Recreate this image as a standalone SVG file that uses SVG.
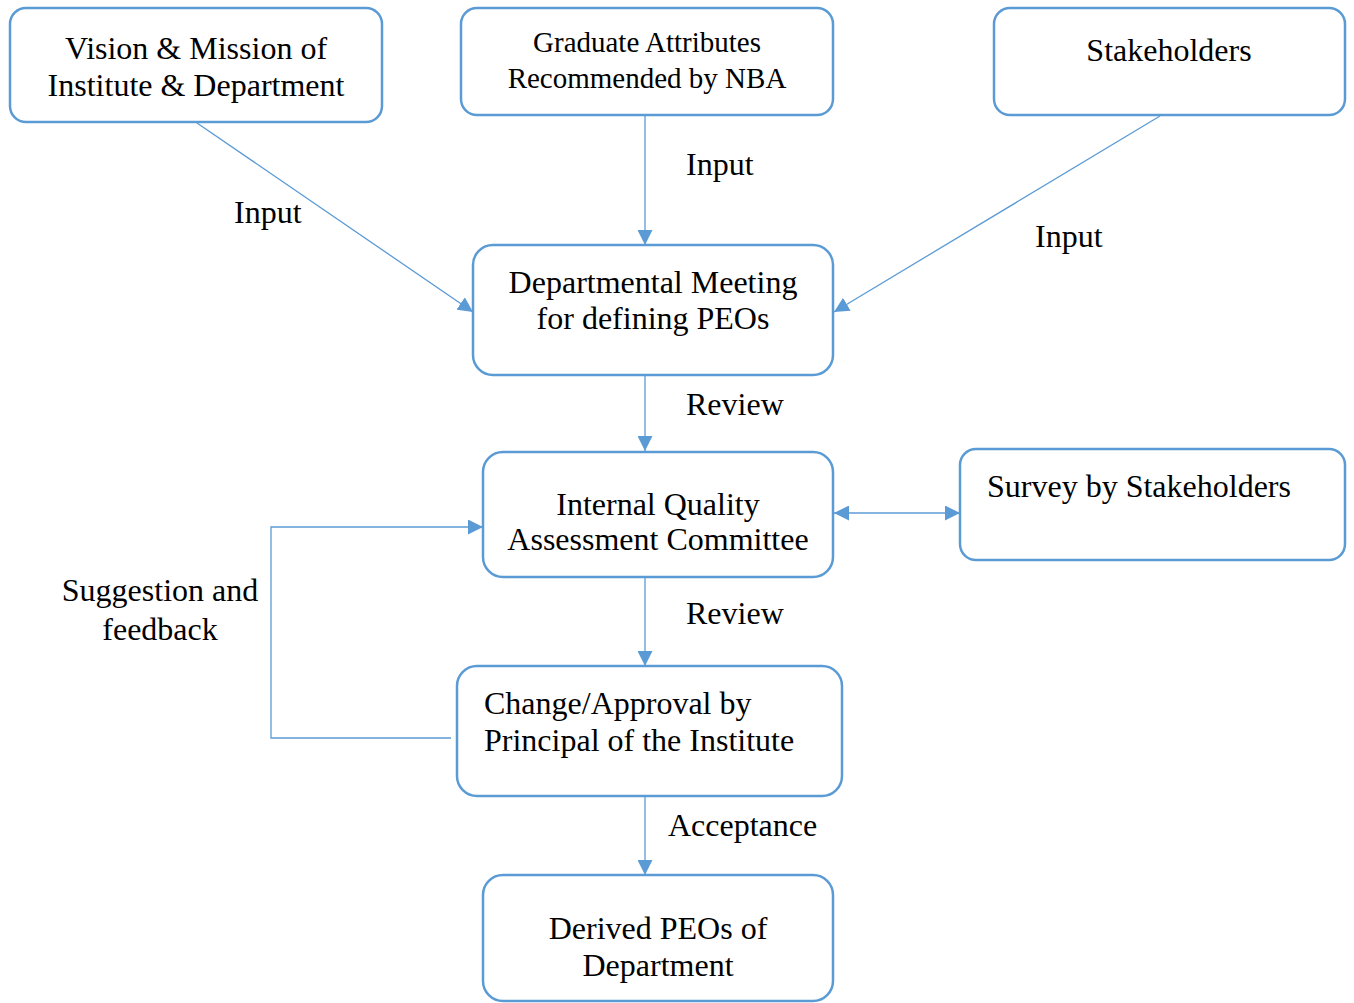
<svg xmlns="http://www.w3.org/2000/svg" width="1354" height="1003" viewBox="0 0 1354 1003">
  <defs>
    <marker id="arrow" viewBox="0 0 15 15" refX="15" refY="7.5" markerWidth="15" markerHeight="15" markerUnits="userSpaceOnUse" orient="auto-start-reverse">
      <path d="M0,0 L15,7.5 L0,15 Z" fill="#5B9BD5"/>
    </marker>
  </defs>
  <style>
    .box { fill: #FFFFFF; stroke: #5B9BD5; stroke-width: 2.5; }
    .t { font-family: "Liberation Serif", "Times New Roman", serif; font-size: 32px; fill: #000000; }
    .s { font-size: 29px; }
    .c { text-anchor: middle; }
    .edge { fill: none; stroke: #5B9BD5; stroke-width: 1.3; }
  </style>
  <rect width="1354" height="1003" fill="#FFFFFF"/>

  <!-- connectors and their labels -->
  <g id="connectors">
    <line class="edge" x1="197" y1="123" x2="473" y2="312" marker-end="url(#arrow)"/>
    <line class="edge" x1="645" y1="116" x2="645" y2="245" marker-end="url(#arrow)"/>
    <line class="edge" x1="1160" y1="116" x2="834" y2="312" marker-end="url(#arrow)"/>
    <line class="edge" x1="645" y1="376" x2="645" y2="451" marker-end="url(#arrow)"/>
    <line class="edge" x1="834" y1="513" x2="960" y2="513" marker-start="url(#arrow)" marker-end="url(#arrow)"/>
    <line class="edge" x1="645" y1="578" x2="645" y2="666" marker-end="url(#arrow)"/>
    <line class="edge" x1="645" y1="797" x2="645" y2="875" marker-end="url(#arrow)"/>
    <polyline class="edge" points="451,738 271,738 271,527 483,527" marker-end="url(#arrow)"/>
    <text class="t" x="234" y="223">Input</text>
    <text class="t" x="686" y="175">Input</text>
    <text class="t" x="1035" y="247">Input</text>
    <text class="t" x="686" y="415">Review</text>
    <text class="t" x="686" y="624">Review</text>
    <text class="t" x="668" y="836">Acceptance</text>
    <text class="t c" x="160" y="601">Suggestion and</text>
    <text class="t c" x="160" y="640">feedback</text>
  </g>

  <g id="vision">
    <rect class="box" x="10" y="8" width="372" height="114" rx="16"/>
    <text class="t c" x="196" y="59">Vision &amp; Mission of</text>
    <text class="t c" x="196" y="96">Institute &amp; Department</text>
  </g>

  <g id="graduate-attributes">
    <rect class="box" x="461" y="8" width="372" height="107" rx="16"/>
    <text class="t c s" x="647" y="52">Graduate Attributes</text>
    <text class="t c s" x="647" y="88">Recommended by NBA</text>
  </g>

  <g id="stakeholders">
    <rect class="box" x="994" y="8" width="351" height="107" rx="16"/>
    <text class="t c" x="1169" y="61">Stakeholders</text>
  </g>

  <g id="dept-meeting">
    <rect class="box" x="473" y="245" width="360" height="130" rx="20"/>
    <text class="t c" x="653" y="293">Departmental Meeting</text>
    <text class="t c" x="653" y="329">for defining PEOs</text>
  </g>

  <g id="iqac">
    <rect class="box" x="483" y="452" width="350" height="125" rx="20"/>
    <text class="t c" x="658" y="515">Internal Quality</text>
    <text class="t c" x="658" y="550">Assessment Committee</text>
  </g>

  <g id="survey">
    <rect class="box" x="960" y="449" width="385" height="111" rx="16"/>
    <text class="t" x="987" y="497">Survey by Stakeholders</text>
  </g>

  <g id="approval">
    <rect class="box" x="457" y="666" width="385" height="130" rx="20"/>
    <text class="t" x="484" y="714">Change/Approval by</text>
    <text class="t" x="484" y="751">Principal of the Institute</text>
  </g>

  <g id="derived-peos">
    <rect class="box" x="483" y="875" width="350" height="126" rx="20"/>
    <text class="t c" x="658" y="939">Derived PEOs of</text>
    <text class="t c" x="658" y="976">Department</text>
  </g>
</svg>
